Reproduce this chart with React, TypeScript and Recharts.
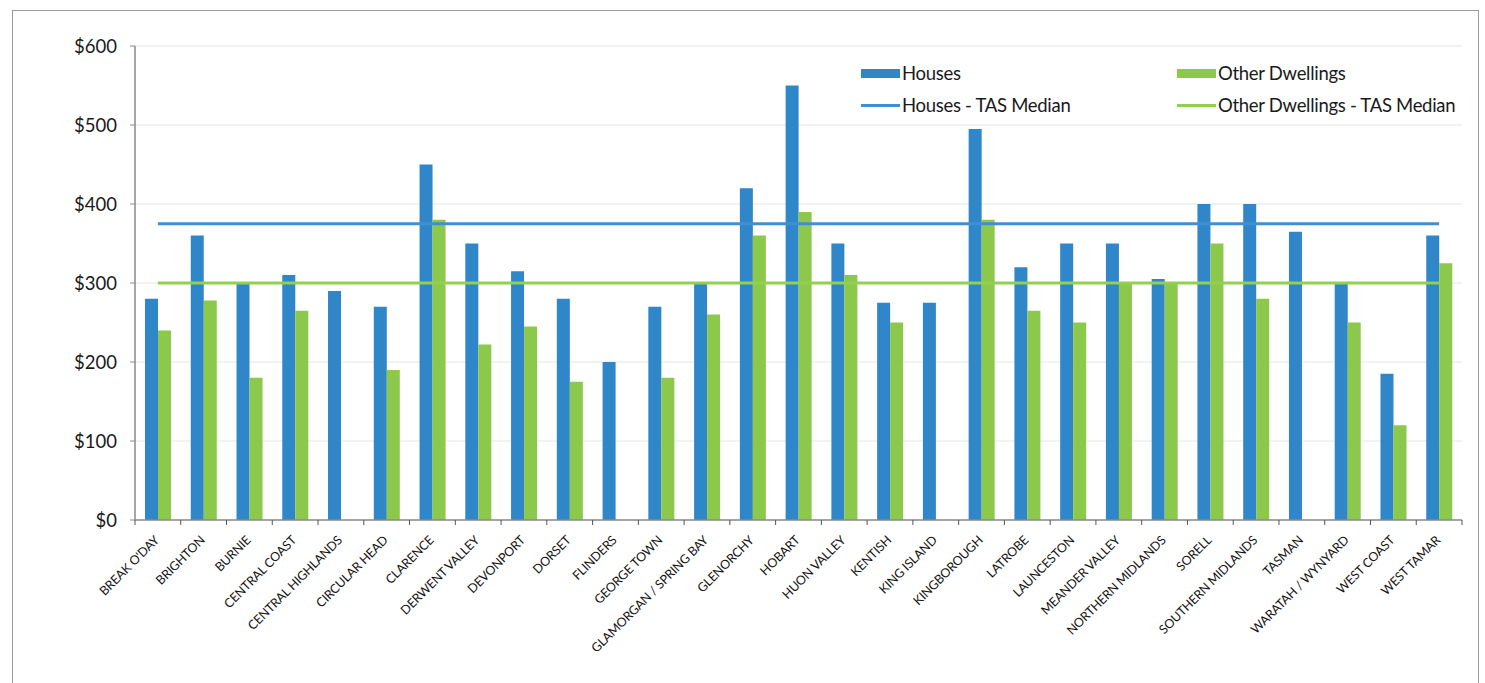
import React from 'react';
import { ComposedChart, Bar, Line, XAxis, YAxis, CartesianGrid } from 'recharts';

// Local government areas
const AREAS = [
  'BREAK O\'DAY', 'BRIGHTON', 'BURNIE', 'CENTRAL COAST', 'CENTRAL HIGHLANDS', 'CIRCULAR HEAD',
  'CLARENCE', 'DERWENT VALLEY', 'DEVONPORT', 'DORSET', 'FLINDERS', 'GEORGE TOWN',
  'GLAMORGAN / SPRING BAY', 'GLENORCHY', 'HOBART', 'HUON VALLEY', 'KENTISH', 'KING ISLAND',
  'KINGBOROUGH', 'LATROBE', 'LAUNCESTON', 'MEANDER VALLEY', 'NORTHERN MIDLANDS', 'SORELL',
  'SOUTHERN MIDLANDS', 'TASMAN', 'WARATAH / WYNYARD', 'WEST COAST', 'WEST TAMAR',
];

// Median weekly rent ($)
const HOUSES = [
  280, 360, 300, 310, 290, 270, 450, 350, 315, 280, 200, 270, 300, 420, 550,
  350, 275, 275, 495, 320, 350, 350, 305, 400, 400, 365, 300, 185, 360,
];
const OTHER_DWELLINGS: (number | null)[] = [
  240, 278, 180, 265, null, 190, 380, 222, 245, 175, null, 180, 260, 360, 390,
  310, 250, null, 380, 265, 250, 300, 300, 350, 280, null, 250, 120, 325,
];

const HOUSES_TAS_MEDIAN = 375;
const OTHER_TAS_MEDIAN = 300;

const Y_TICKS = [0, 100, 200, 300, 400, 500, 600];

const BLUE = '#2f86c8';
const GREEN = '#8cc84b';
const BLUE_LINE = '#3f8fd2';
const GREEN_LINE = '#92d050';
const FONT = 'Lato, "Open Sans", sans-serif';

const WIDTH = 1485;
const HEIGHT = 683;
const MARGIN = { top: 46, right: 23, left: 75, bottom: 13 };
const Y_AXIS_WIDTH = 60;
// width of one category band, used for the boundary tick marks
const BAND = (WIDTH - MARGIN.left - MARGIN.right - Y_AXIS_WIDTH) / AREAS.length;

const data = AREAS.map((area, i) => ({
  area,
  houses: HOUSES[i],
  other: OTHER_DWELLINGS[i],
  housesMedian: HOUSES_TAS_MEDIAN,
  otherMedian: OTHER_TAS_MEDIAN,
}));

const AreaTick = (props: any) => {
  const { x, y, payload, index } = props;
  const axisY = y - 8;
  const last = index === AREAS.length - 1;
  return (
    <g>
      <line x1={x - BAND / 2} x2={x - BAND / 2} y1={axisY} y2={axisY + 5} stroke="#555" />
      {last && <line x1={x + BAND / 2} x2={x + BAND / 2} y1={axisY} y2={axisY + 5} stroke="#555" />}
      <g transform={`translate(${x + 2},${y + 13})`}>
        <text
          textAnchor="end"
          transform="rotate(-45)"
          fontSize={12.5}
          fontFamily={FONT}
          fill="#151515"
          letterSpacing={-0.2}
        >
          {payload.value}
        </text>
      </g>
    </g>
  );
};

const LegendItem = ({ label, color, line }: { label: string; color: string; line?: boolean }) => (
  <div style={{ display: 'flex', alignItems: 'center', height: 32 }}>
    <div
      style={{
        width: 39,
        height: line ? 3 : 9,
        background: color,
        marginRight: 2,
      }}
    />
    <span style={{ fontSize: 18.5, color: '#1a1a1a', fontFamily: FONT, letterSpacing: -0.3 }}>{label}</span>
  </div>
);

export default function App() {
  return (
    <div style={{ position: 'absolute', left: 0, top: 0, width: WIDTH, height: HEIGHT, overflow: 'hidden', background: '#fff' }}>
      <div
        style={{
          position: 'absolute',
          left: 12,
          top: 10,
          width: 1465,
          height: 690,
          border: '1.5px solid #9a9a9a',
        }}
      />
      <ComposedChart
        width={WIDTH}
        height={HEIGHT}
        data={data}
        margin={MARGIN}
        barGap={0}
        style={{ position: 'absolute', left: 0, top: 0 }}
      >
        <CartesianGrid vertical={false} stroke="#e6e6e6" />
        <XAxis
          dataKey="area"
          interval={0}
          height={150}
          tick={<AreaTick />}
          tickLine={false}
          axisLine={{ stroke: '#8a8a8a', strokeWidth: 1.5 }}
        />
        <YAxis
          width={Y_AXIS_WIDTH}
          domain={[0, 600]}
          ticks={Y_TICKS}
          tickFormatter={(v: number) => `$${v}`}
          tick={{ fontSize: 18.5, fill: '#1a1a1a', fontFamily: FONT }}
          tickLine={{ stroke: '#8a8a8a' }}
          tickSize={5}
          tickMargin={13}
          axisLine={{ stroke: '#8a8a8a', strokeWidth: 1.5 }}
        />
        <Bar dataKey="houses" name="Houses" fill={BLUE} barSize={13} isAnimationActive={false} />
        <Bar dataKey="other" name="Other Dwellings" fill={GREEN} barSize={13} isAnimationActive={false} />
        <Line
          dataKey="housesMedian"
          name="Houses - TAS Median"
          stroke={BLUE_LINE}
          strokeWidth={3}
          dot={false}
          activeDot={false}
          isAnimationActive={false}
        />
        <Line
          dataKey="otherMedian"
          name="Other Dwellings - TAS Median"
          stroke={GREEN_LINE}
          strokeWidth={3}
          dot={false}
          activeDot={false}
          isAnimationActive={false}
        />
      </ComposedChart>
      <div
        style={{
          position: 'absolute',
          left: 861,
          top: 57,
          display: 'grid',
          gridTemplateColumns: '316px auto',
        }}
      >
        <LegendItem label="Houses" color={BLUE} />
        <LegendItem label="Other Dwellings" color={GREEN} />
        <LegendItem label="Houses - TAS Median" color={BLUE_LINE} line />
        <LegendItem label="Other Dwellings - TAS Median" color={GREEN_LINE} line />
      </div>
    </div>
  );
}
